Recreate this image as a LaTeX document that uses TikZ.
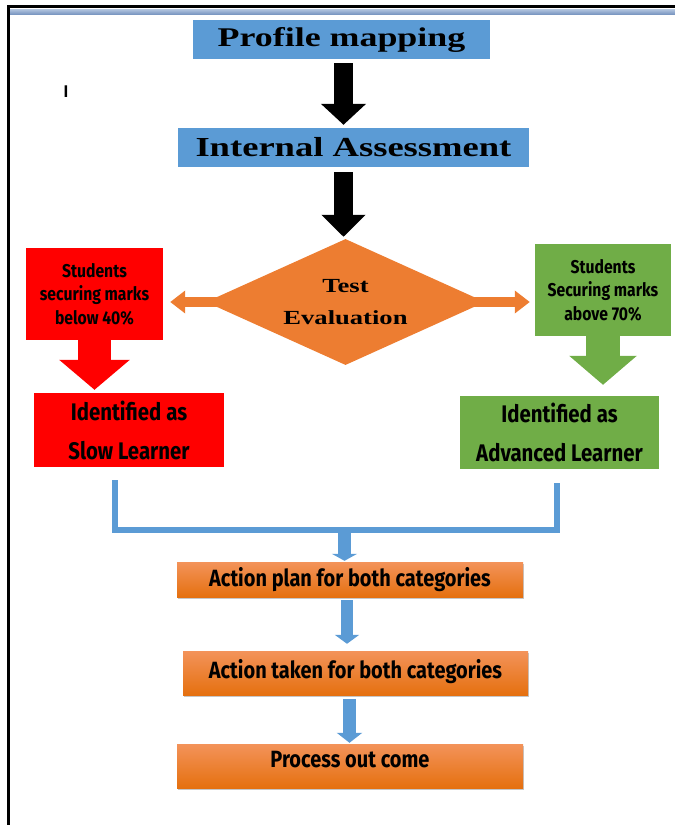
\documentclass[tikz,border=0pt]{standalone}
\usepackage{fontspec}
\usetikzlibrary{shapes.geometric,arrows.meta,shadows,backgrounds}
\newfontfamily\headfont[FakeStretch=1.33]{Liberation Serif}
\newfontfamily\bodyfont[FakeStretch=0.85]{Fira Sans}
\newfontfamily\markfont{Liberation Sans}
\definecolor{boxblue}{HTML}{5B9BD5}
\definecolor{boxred}{HTML}{FF0000}
\definecolor{boxgreen}{HTML}{70AD47}
\definecolor{boxorange}{HTML}{ED7D31}
\definecolor{ortop}{HTML}{F3935A}
\definecolor{orbot}{HTML}{E5700F}
\definecolor{striptop}{HTML}{B4C6E0}
\definecolor{stripbot}{HTML}{7C98C2}
\begin{document}
\begin{tikzpicture}[x=1pt, y=-1pt]
    \tikzstyle{title} = [fill=boxblue, inner sep=0pt, font=\headfont\bfseries]
    \tikzstyle{choice} = [diamond, aspect=2.2, fill=boxorange, inner sep=0pt, align=center,
                          font=\headfont\bfseries\fontsize{20}{32}\selectfont]
    \tikzstyle{marks} = [inner sep=0pt, minimum width=137pt, minimum height=92pt, align=center,
                         font=\bodyfont\bfseries\fontsize{18.5}{23.5}\selectfont]
    \tikzstyle{learner} = [inner sep=0pt, minimum height=74pt, align=center,
                           font=\bodyfont\bfseries\fontsize{24}{39}\selectfont]
    \tikzstyle{stage} = [inner sep=0pt, minimum width=346pt, top color=ortop, bottom color=orbot,
                         drop shadow={shadow xshift=1pt, shadow yshift=-2pt, opacity=0.45},
                         font=\bodyfont\bfseries\fontsize{23.5}{26}\selectfont]
    \tikzstyle{bigarrow} = [line width=19pt, -{Triangle[width=44pt, length=21pt]}]
    \tikzstyle{sidearrow} = [boxorange, line width=10pt, -{Triangle[width=22pt, length=15pt]}]
    \tikzstyle{flow} = [boxblue, line width=13pt]
    \tikzstyle{bracket} = [boxblue, line width=6.5pt, line join=miter]

    \useasboundingbox (0,0) rectangle (675,825);
    \draw[line width=3pt] (8.5,826) -- (8.5,6.5) -- (676,6.5);
    \shade[top color=striptop, bottom color=stripbot] (10,9) rectangle (675,14);
    \node[font=\markfont\bfseries\fontsize{17}{17}\selectfont] (cursor) at (66,92) {I};

    \node[title, minimum width=297pt, minimum height=39pt, font=\headfont\bfseries\fontsize{27}{30}\selectfont]
        (profile) at (341.5,39.5) {Profile mapping};
    \node[title, minimum width=351pt, minimum height=39pt, font=\headfont\bfseries\fontsize{27.5}{30}\selectfont]
        (internal) at (353.5,147.5) {Internal Assessment};
    \node[choice, minimum width=279pt, minimum height=126pt] (test) at (345.5,302) {Test\\Evaluation};

    \node[marks, fill=boxred] (below) at (94.5,294) {Students\\securing marks\\below 40\%};
    \node[marks, fill=boxgreen, minimum width=136pt] (above) at (603,290) {Students\\Securing marks\\above 70\%};
    \node[learner, fill=boxred, minimum width=190pt] (slow) at (129,430) {Identified as\\Slow Learner};
    \node[learner, fill=boxgreen, minimum width=199pt, minimum height=73pt] (advanced) at (559.5,432.5) {Identified as\\Advanced Learner};

    \node[stage, minimum height=35pt] (plan) at (350,579.5) {Action plan for both categories};
    \node[stage, minimum width=345pt, minimum height=44pt, text depth=9pt] (taken) at (355.5,673) {Action taken for both categories};
    \node[stage, minimum height=44pt, text depth=14pt] (outcome) at (350,766) {Process out come};

    \draw[bigarrow, shorten <=4pt, shorten >=3pt]
        ([xshift=2pt]profile.south) -- ([xshift=2pt]profile.south |- internal.north);
    \draw[bigarrow, shorten <=5pt, shorten >=2pt, -{Triangle[width=43pt, length=22pt]}]
        ([xshift=-10pt]internal.south) -- ([xshift=-10pt]internal.south |- test.north);

    \begin{pgfonlayer}{background}
        \draw[sidearrow, shorten <=-18pt, shorten >=7pt] (test.west) -- (test.west -| below.east);
        \draw[sidearrow, shorten <=-17pt, shorten >=5pt] (test.east) -- (test.east -| above.west);
    \end{pgfonlayer}

    \draw[boxred, line width=33pt, -{Triangle[width=69pt, length=30pt]}, shorten >=3pt]
        (below.south) -- (below.south |- slow.north);
    \draw[boxgreen, line width=34pt, -{Triangle[width=66pt, length=29pt]}, shorten >=11pt]
        (above.south) -- (above.south |- advanced.north);

    \coordinate (slowfoot) at (115,480);
    \coordinate (slowknee) at (115,530);
    \coordinate (advknee) at (557,530);
    \coordinate (advfoot) at (557,483);
    \coordinate (merge) at (344.5,530);
    \draw[bracket] (slowfoot) -- (slowknee) -- (advknee) -- (advfoot);

    \draw[flow, -{Triangle[width=25pt, length=7pt]}, shorten >=1pt]
        (merge) -- (merge |- plan.north);
    \draw[flow, line width=12pt, -{Triangle[width=24pt, length=9pt]}, shorten <=3pt, shorten >=7pt]
        ([xshift=-3pt]plan.south) -- ([xshift=-3pt]plan.south |- taken.north);
    \draw[flow, -{Triangle[width=25pt, length=10pt]}, shorten <=4pt, shorten >=1pt]
        ([xshift=-6pt]taken.south) -- ([xshift=-6pt]taken.south |- outcome.north);
\end{tikzpicture}
\end{document}
